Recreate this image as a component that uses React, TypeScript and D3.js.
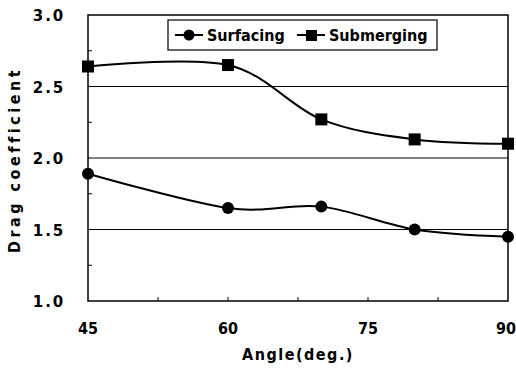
import React, { useEffect, useRef } from 'react';
import * as d3 from 'd3';

// angles (deg.) and drag coefficients
const angles = [45, 60, 70, 80, 90];
const surfacing = [1.89, 1.65, 1.66, 1.5, 1.45];
const submerging = [2.64, 2.65, 2.27, 2.13, 2.1];
const xTicks = [45, 60, 75, 90];
const yTicks = [1.0, 1.5, 2.0, 2.5, 3.0];
const seriesNames = ['Surfacing', 'Submerging'];

const W = 516;
const H = 372;
const m = { left: 88, right: 8, top: 15, bottom: 71 };

export default function App() {
  const ref = useRef<SVGSVGElement>(null);

  useEffect(() => {
    const svg = d3.select(ref.current);
    svg.selectAll('*').remove();

    const x = d3.scaleLinear().domain([45, 90]).range([m.left, W - m.right]);
    const y = d3.scaleLinear().domain([1, 3]).range([H - m.bottom, m.top]);

    const g = svg.append('g');

    // gridlines
    g.selectAll('line.grid')
      .data([1.5, 2.0, 2.5])
      .enter()
      .append('line')
      .attr('x1', x(45))
      .attr('x2', x(90))
      .attr('y1', d => y(d))
      .attr('y2', d => y(d))
      .attr('stroke', '#000')
      .attr('stroke-width', 1.2);

    // frame
    g.append('rect')
      .attr('x', x(45))
      .attr('y', y(3))
      .attr('width', x(90) - x(45))
      .attr('height', y(1) - y(3))
      .attr('fill', 'none')
      .attr('stroke', '#000')
      .attr('stroke-width', 1.5);

    // minor inner ticks
    g.selectAll('line.xt')
      .data(d3.range(52.5, 90, 7.5))
      .enter()
      .append('line')
      .attr('x1', d => x(d))
      .attr('x2', d => x(d))
      .attr('y1', y(1))
      .attr('y2', y(1) - 4)
      .attr('stroke', '#000');
    g.selectAll('line.yt')
      .data([1.25, 1.75, 2.25, 2.75])
      .enter()
      .append('line')
      .attr('x1', x(45))
      .attr('x2', x(45) + 4)
      .attr('y1', d => y(d))
      .attr('y2', d => y(d))
      .attr('stroke', '#000');

    // tick labels
    g.selectAll('text.yl')
      .data(yTicks)
      .enter()
      .append('text')
      .attr('x', 49)
      .attr('y', d => y(d) + 6)
      .attr('text-anchor', 'middle')
      .attr('font-family', 'DejaVu Sans')
      .attr('font-weight', 'bold')
      .attr('font-size', 15)
      .attr('letter-spacing', 2)
      .text(d => d.toFixed(1));
    g.selectAll('text.xl')
      .data(xTicks)
      .enter()
      .append('text')
      .attr('x', d => Math.min(x(d), W - 10))
      .attr('y', 334)
      .attr('text-anchor', 'middle')
      .attr('font-family', 'DejaVu Sans Condensed')
      .attr('font-weight', 'bold')
      .attr('font-size', 16)
      .text(d => d);

    // axis titles
    g.append('text')
      .attr('x', 298)
      .attr('y', 360)
      .attr('text-anchor', 'middle')
      .attr('font-family', 'DejaVu Sans Condensed')
      .attr('font-weight', 'bold')
      .attr('font-size', 16)
      .attr('letter-spacing', 1.5)
      .text('Angle(deg.)');
    g.append('text')
      .attr('transform', 'translate(20,160) rotate(-90)')
      .attr('text-anchor', 'middle')
      .attr('font-family', 'DejaVu Sans Condensed')
      .attr('font-weight', 'bold')
      .attr('font-size', 16)
      .attr('letter-spacing', 3.5)
      .text('Drag coefficient');

    const line = d3.line<number>()
      .x((d, i) => x(angles[i]))
      .y(d => y(d))
      .curve(d3.curveCardinal.tension(0));

    [surfacing, submerging].forEach((vals, k) => {
      g.append('path')
        .attr('d', line(vals))
        .attr('fill', 'none')
        .attr('stroke', '#000')
        .attr('stroke-width', 2);
      if (k === 0) {
        g.selectAll('circle.s')
          .data(vals)
          .enter()
          .append('circle')
          .attr('cx', (d, i) => x(angles[i]))
          .attr('cy', d => y(d))
          .attr('r', 6)
          .attr('fill', '#000');
      } else {
        g.selectAll('rect.m')
          .data(vals)
          .enter()
          .append('rect')
          .attr('x', (d, i) => x(angles[i]) - 6)
          .attr('y', d => y(d) - 6)
          .attr('width', 12)
          .attr('height', 12)
          .attr('fill', '#000');
      }
    });

    // legend
    const lg = g.append('g');
    lg.append('rect')
      .attr('x', 168)
      .attr('y', 20)
      .attr('width', 269)
      .attr('height', 30)
      .attr('fill', '#fff')
      .attr('stroke', '#000')
      .attr('stroke-width', 1.2);
    const lx = [175, 297];
    seriesNames.forEach((name, k) => {
      lg.append('line')
        .attr('x1', lx[k])
        .attr('x2', lx[k] + 28)
        .attr('y1', 35)
        .attr('y2', 35)
        .attr('stroke', '#000')
        .attr('stroke-width', 2);
      if (k === 0) {
        lg.append('circle').attr('cx', lx[k] + 14).attr('cy', 35).attr('r', 5.5).attr('fill', '#000');
      } else {
        lg.append('rect').attr('x', lx[k] + 9).attr('y', 30).attr('width', 11).attr('height', 11).attr('fill', '#000');
      }
      lg.append('text')
        .attr('x', lx[k] + 32)
        .attr('y', 41)
        .attr('font-family', 'DejaVu Sans Condensed')
        .attr('font-weight', 'bold')
        .attr('font-size', 16)
        .text(name);
    });
  }, []);

  return (
    <svg
      ref={ref}
      width={W}
      height={H}
      style={{ position: 'absolute', left: 0, top: 0, background: '#fff' }}
    />
  );
}
